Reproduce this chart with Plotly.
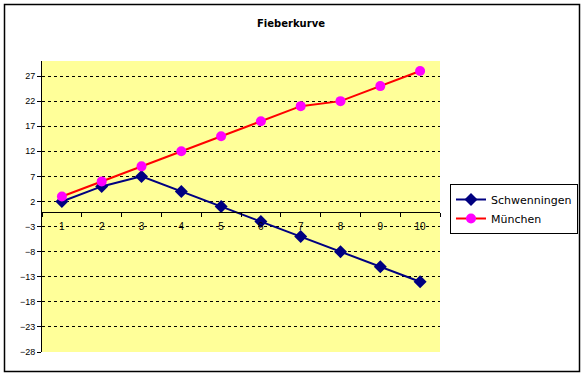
import plotly.graph_objects as go

categories = ["1", "2", "3", "4", "5", "6", "7", "8", "9", "10"]
schwenningen = [2, 5, 7, 4, 1, -2, -5, -8, -11, -14]
muenchen = [3, 6, 9, 12, 15, 18, 21, 22, 25, 28]

W, H = 584, 377
L, R, T, B = 42, 440, 61, 352
pw, ph = R - L, B - T
ymin, ymax = -28, 30

fig = go.Figure()
fig.add_trace(go.Scatter(x=categories, y=schwenningen, name="Schwenningen",
                         mode="lines+markers",
                         line=dict(color="#000080", width=2),
                         marker=dict(symbol="diamond", size=10, color="#000080")))
fig.add_trace(go.Scatter(x=categories, y=muenchen, name="München",
                         mode="lines+markers",
                         line=dict(color="#FF0000", width=2),
                         marker=dict(symbol="circle", size=10, color="#FF00FF")))

def px(x):
    return (x - L) / pw

def py(y):
    return (B - y) / ph

fig.add_shape(type="rect", xref="paper", yref="paper",
              x0=px(4.5), x1=px(579.5), y0=py(371.5), y1=py(4.5),
              line=dict(color="black", width=1.5), layer="below")

fig.update_layout(
    width=W, height=H,
    margin=dict(l=L, r=W - R, t=T, b=H - B, autoexpand=False),
    paper_bgcolor="white",
    plot_bgcolor="#FFFF99",
    title=dict(text="<b>Fieberkurve</b>", x=291 / W, xanchor="center",
               y=1 - 23 / H, yanchor="middle", xref="container", yref="container",
               font=dict(family="DejaVu Sans", size=10, color="black")),
    showlegend=True,
    legend=dict(x=px(450), y=py(184), xanchor="left", yanchor="top",
                bgcolor="white", bordercolor="black", borderwidth=1,
                font=dict(family="DejaVu Sans", size=11, color="black"),
                tracegroupgap=2, itemwidth=30),
    font=dict(family="Liberation Sans", size=10, color="black"),
)
fig.update_xaxes(type="category", range=[-0.5, 9.5], anchor="free",
                 position=(0 - ymin) / (ymax - ymin),
                 showline=True, linecolor="black", linewidth=1,
                 showgrid=False, zeroline=False,
                 ticks="outside", ticklen=4, tickcolor="black",
                 tickson="boundaries", ticklabelstandoff=5,
                 tickfont=dict(family="Liberation Sans", size=10, color="black"))
fig.update_yaxes(range=[ymin, ymax], tick0=-28, dtick=5,
                 showline=True, linecolor="black", linewidth=1,
                 showgrid=True, gridcolor="black", griddash="3px,3px", gridwidth=1,
                 zeroline=False,
                 ticks="outside", ticklen=4, tickcolor="black",
                 tickfont=dict(family="Liberation Sans", size=9, color="black"))

fig.write_html("out.html", config={"displayModeBar": False},
               post_script="document.body.style.margin='0';document.body.style.overflow='hidden';")
